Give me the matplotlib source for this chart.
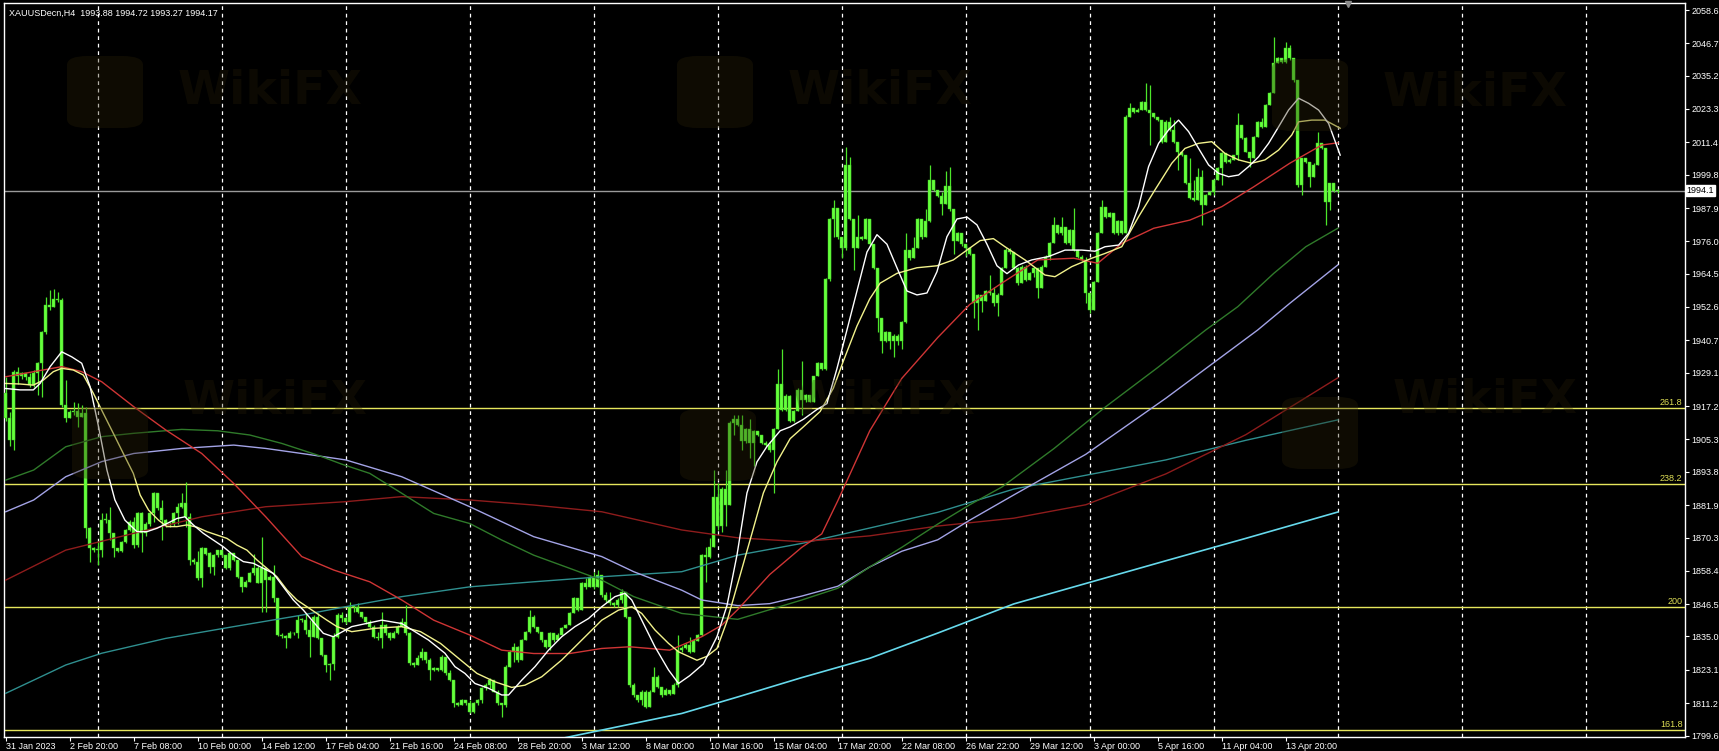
import numpy as np
import matplotlib.pyplot as plt
import matplotlib.transforms as mtransforms
from matplotlib.patches import FancyBboxPatch

# XAUUSDecn H4 candles (bar 0 = 31 Jan 2023 04:00)
first_open = 1921.8
close = [
    1913, 1905, 1929.5, 1928, 1929, 1927.5, 1924.7, 1929, 1932.5, 1943.8,
    1953.3, 1952.5, 1955.5, 1955, 1917.6, 1912.8, 1915, 1915.5, 1913.5, 1914.6,
    1873.6, 1866.4, 1865.8, 1866, 1876.5, 1876.5, 1871.8, 1866.4, 1865.5, 1868.8,
    1873, 1875.9, 1867.6, 1878.9, 1871.8, 1875.3, 1878.9, 1886.1, 1880.7, 1876.5,
    1874.8, 1875.3, 1878.9, 1881.3, 1882.5, 1877.7, 1862.3, 1861.7, 1855.7, 1866.4,
    1864.6, 1859.9, 1864, 1865.8, 1864, 1859.3, 1864.6, 1862.3, 1856.3, 1852.7,
    1854.5, 1857.5, 1859.3, 1854, 1859.3, 1855.1, 1856.3, 1848.6, 1835.5, 1835,
    1834.3, 1836.4, 1836.1, 1840.8, 1841, 1837.3, 1834.9, 1842, 1834.3, 1828.4,
    1824.8, 1825, 1834.9, 1842.6, 1841.4, 1840.2, 1845.6, 1845.6, 1843.8, 1842,
    1840.2, 1838.5, 1834.9, 1834.3, 1839.1, 1836.1, 1834.3, 1836.1, 1838.5, 1840.2,
    1836.1, 1825.4, 1824.8, 1827.2, 1829.5, 1826.6, 1823, 1823.6, 1823, 1827.8,
    1821.8, 1819.4, 1811.1, 1810.5, 1812.3, 1811.1, 1808.1, 1811.1, 1812.3, 1816.5,
    1817.6, 1819.4, 1815.3, 1811.1, 1810.5, 1824.2, 1829.5, 1831.3, 1826.5, 1833.7,
    1836.7, 1842, 1838.5, 1836.7, 1833.7, 1831.3, 1836.1, 1833.7, 1835.5, 1837.9,
    1839.1, 1843.2, 1848.6, 1844.4, 1853.9, 1852.7, 1856.3, 1852.7, 1856.9, 1849.8,
    1848, 1846.8, 1846.2, 1848, 1851, 1842, 1817.6, 1814.1, 1812.3, 1815.3,
    1809.9, 1815.3, 1820.6, 1817, 1814.1, 1816, 1814.5, 1817.6, 1830, 1830.7,
    1832.1, 1829.3, 1833.5, 1835.6, 1864, 1863.3, 1866.8, 1884.8, 1874.4, 1887.6,
    1882, 1911.1, 1912.5, 1910.5, 1904.9, 1909.1, 1904.2, 1908.4, 1907, 1904.2,
    1903.5, 1901.4, 1909.1, 1925, 1916, 1920.9, 1911.8, 1915.3, 1922.9, 1919.5,
    1921, 1918.8, 1927.8, 1932.6, 1930.6, 1962.5, 1984, 1988.1, 1977.7, 1973.6,
    2003.4, 1984, 1973.6, 1977.7, 1977, 1984, 1974.9, 1966.6, 1948.6, 1940.3,
    1943.7, 1940.3, 1942.4, 1940.3, 1947.2, 1972.9, 1970.1, 1973.6, 1984, 1977.7,
    1983.3, 1997.8, 1994.4, 1992.3, 1989.5, 1995.8, 1987.4, 1976.3, 1979.1, 1974.9,
    1973.6, 1971.5, 1954.1, 1956.9, 1954.8, 1958.3, 1957.6, 1954.1, 1956.9, 1966.6,
    1972.9, 1972.2, 1966.4, 1961, 1967, 1962.2, 1964.6, 1966.4, 1959.2, 1967,
    1970.6, 1975.3, 1981.9, 1978.9, 1981.3, 1975.3, 1980.1, 1972.9, 1970.6, 1969.4,
    1957.5, 1951.5, 1961.6, 1978.9, 1988.4, 1984.8, 1986, 1978.9, 1983.3, 1978.9,
    2020.5, 2023.5, 2022.3, 2022.9, 2025.9, 2022.9, 2021.7, 2020.5, 2019.3, 2011.6,
    2018.7, 2015.8, 2011.6, 2008, 2006.8, 1996.7, 1991.4, 1990.8, 1999.1, 1989,
    1992.6, 1993.5, 1997.9, 2002.1, 2007.4, 2004.5, 2005.1, 2006.8, 2017.5, 2012.8,
    2008, 2005.6, 2013.4, 2018.7, 2016.9, 2024.7, 2028.9, 2039.6, 2041.3, 2040.2,
    2044.9, 2041.3, 2033.6, 1996.1, 2005.6, 2004.5, 1999.1, 2003.3, 2011, 2009.2,
    1990.2, 1996.7, 1993.88, 1994.17,
]
high = [
    1927.7, 1915, 1930, 1931, 1929.5, 1929, 1929, 1930, 1933, 1944,
    1956.3, 1958.6, 1959, 1958, 1955.7, 1926.5, 1916, 1918.8, 1918.2, 1917.6,
    1917, 1874, 1867, 1869, 1878.9, 1879, 1881.3, 1872, 1866.5, 1869,
    1873.5, 1876.5, 1877.7, 1879.5, 1879.5, 1876, 1879.5, 1886.7, 1886.1, 1883.7,
    1877, 1876, 1879.5, 1882.5, 1886.1, 1890.2, 1878.9, 1863, 1865.5, 1867,
    1866.4, 1865, 1864.6, 1866, 1866, 1862.9, 1865, 1864.6, 1862.3, 1856.3,
    1855, 1858, 1864.6, 1860, 1870.6, 1859.5, 1857, 1860.5, 1848.6, 1836.1,
    1835.5, 1837, 1836.7, 1842.6, 1841.4, 1843.2, 1841, 1842.6, 1843.2, 1834.3,
    1828.4, 1825.4, 1836.1, 1843.2, 1843.8, 1842, 1847.4, 1846.2, 1846.8, 1843.8,
    1842, 1841, 1839.1, 1836.7, 1843.8, 1839.5, 1836.7, 1837, 1839, 1841.4,
    1846.2, 1836.7, 1826, 1828.4, 1830.7, 1829.5, 1827.2, 1824, 1823.6, 1828.4,
    1826, 1823, 1819.4, 1811.7, 1812.8, 1812, 1812.3, 1811.7, 1812.8, 1817,
    1818.5, 1820, 1819.4, 1815.9, 1811.1, 1824.8, 1830, 1832.5, 1831.5, 1834,
    1837, 1844.4, 1842.6, 1838.5, 1836.7, 1833.7, 1836.7, 1836.1, 1836.1, 1838.2,
    1839.5, 1843.8, 1849, 1848.6, 1854.3, 1855.7, 1856.9, 1858.1, 1858.7, 1856.9,
    1851, 1851, 1847.4, 1848.6, 1852, 1849.2, 1842, 1818.2, 1814.1, 1816,
    1815.9, 1815.9, 1824.2, 1821.2, 1817, 1816.5, 1816, 1818.2, 1835.6, 1831.5,
    1832.5, 1834.9, 1834, 1836, 1864.5, 1866.8, 1870.2, 1894.5, 1889.7, 1888.5,
    1894.5, 1912, 1913.9, 1913.9, 1913.9, 1909.5, 1912.5, 1908.8, 1908.4, 1907,
    1904.9, 1904.9, 1909.5, 1930.6, 1937.5, 1921.5, 1921, 1916, 1923.6, 1933.3,
    1921.5, 1921, 1928, 1933, 1932.6, 1963, 1984.5, 1990.9, 1985.3, 1977.7,
    2009.6, 2006.2, 1984, 1985.3, 1978, 1984.5, 1984, 1970.8, 1966.6, 1948.6,
    1944, 1943.1, 1943, 1943.1, 1947.5, 1979.1, 1973, 1977.7, 1984.5, 1979.1,
    1987.4, 2003.4, 1997.8, 1994.4, 1993.7, 2001.3, 2002.7, 1987.4, 1979.5, 1979.1,
    1975, 1974, 1971.5, 1957.2, 1956.9, 1958.6, 1963.9, 1959.7, 1957.5, 1967,
    1973.5, 1973.6, 1971.7, 1967, 1967.5, 1967.6, 1965, 1966.8, 1963.4, 1967.5,
    1971, 1975.8, 1984.8, 1981.9, 1984.8, 1981.3, 1980.5, 1987.8, 1973, 1971.1,
    1970.6, 1957.5, 1962, 1979.5, 1990.8, 1988.4, 1986.5, 1986, 1983.6, 1983.3,
    2021, 2025.3, 2023.5, 2023.5, 2026.2, 2032.4, 2031.8, 2021.7, 2020.5, 2019.3,
    2019.3, 2020.5, 2019.3, 2011.6, 2008, 2006.2, 2005.6, 1997.9, 2002.1, 2001.5,
    1993, 1994, 1998.2, 2002.5, 2007.8, 2007.4, 2005.6, 2007, 2021.7, 2017.5,
    2013.4, 2008, 2013.8, 2019, 2019.9, 2025, 2029.2, 2049.1, 2041.8, 2041.3,
    2047.3, 2046.1, 2041.3, 2033.6, 2005.8, 2005.6, 2003.9, 2003.9, 2015.2, 2011,
    2009.2, 1997, 1996.7, 1994.72,
]
low = [
    1912, 1903, 1901.5, 1925, 1927, 1926.5, 1924, 1924, 1921, 1920.6,
    1943, 1951.5, 1952.5, 1954.5, 1917, 1911.6, 1913, 1914, 1909.9, 1913.5,
    1870, 1861.7, 1865, 1860.5, 1863.5, 1875.5, 1869.4, 1863.5, 1865, 1865,
    1868.5, 1872.5, 1866.5, 1867, 1865.2, 1871, 1874.5, 1876, 1880, 1869.4,
    1874, 1874, 1874.5, 1875.3, 1880.7, 1874.2, 1860.5, 1861, 1855, 1852.7,
    1864, 1857.5, 1856.9, 1863.5, 1863.5, 1859, 1858.7, 1862, 1855.7, 1851,
    1852.7, 1854.5, 1857, 1853.9, 1843.8, 1843.8, 1855, 1847.4, 1835, 1834.5,
    1830.7, 1834.5, 1835.5, 1834.3, 1840.2, 1836, 1827.8, 1834.9, 1834, 1828,
    1822.4, 1819.4, 1823, 1834.3, 1840, 1839.5, 1840, 1843.8, 1843.2, 1841.4,
    1839.5, 1837.9, 1834.3, 1833.7, 1830.7, 1835.5, 1833.7, 1834.3, 1836, 1838.5,
    1835.5, 1824.8, 1824.2, 1824.8, 1826.6, 1825.4, 1819.4, 1822.5, 1822.5, 1822.5,
    1821.2, 1819, 1809.9, 1810, 1811, 1810.5, 1807.5, 1807.5, 1810.5, 1811.1,
    1815.9, 1816.5, 1815, 1810.5, 1806.3, 1809.9, 1824.2, 1826, 1826, 1830.7,
    1833.7, 1836.1, 1838, 1836.1, 1833, 1830.7, 1830, 1833.1, 1834.5, 1835.5,
    1837.9, 1839.1, 1844.4, 1844, 1845.6, 1852, 1852.7, 1852, 1855.7, 1849.2,
    1847.4, 1846.2, 1845.6, 1845.6, 1846.8, 1841.4, 1817, 1813.5, 1811.7, 1810.5,
    1809.3, 1813.5, 1815.3, 1816.5, 1813.5, 1814.5, 1814, 1814.5, 1817, 1829.5,
    1830.5, 1829, 1829.3, 1833.5, 1835, 1854.3, 1863, 1866.8, 1873, 1872.3,
    1874.4, 1882, 1907, 1910, 1901.4, 1904.2, 1898.7, 1895.9, 1906.5, 1903.8,
    1903, 1901, 1886.2, 1909, 1915.5, 1915.3, 1911.5, 1911.5, 1916.5, 1913.9,
    1918.8, 1918.5, 1919.5, 1927.8, 1930, 1930, 1962, 1977.7, 1977, 1970.1,
    1973, 1983.5, 1965.9, 1974, 1976.5, 1977, 1974.5, 1966, 1943.7, 1936.1,
    1940, 1937.5, 1934.7, 1938.9, 1937.5, 1947, 1969.5, 1970, 1977.5, 1977,
    1977.7, 1983, 1994, 1992, 1985.3, 1989.5, 1987, 1971.5, 1976.3, 1974.5,
    1970.8, 1971, 1948.6, 1944.4, 1950.7, 1954.8, 1957, 1952.8, 1949.3, 1956.9,
    1966.6, 1971.5, 1966, 1960.5, 1961.6, 1962, 1962.8, 1963.4, 1955.7, 1959.8,
    1967, 1969.4, 1975.3, 1978.5, 1978.3, 1975, 1974.7, 1972.5, 1970, 1969,
    1953.9, 1950.3, 1952.1, 1961.6, 1978.9, 1984.5, 1984.8, 1978.5, 1978.3, 1978.5,
    1978.9, 2020.5, 2022, 2022.3, 2022.9, 2022.5, 2010.4, 2020.2, 2019, 2011,
    2011.6, 2015.5, 2011, 2001.5, 2006.5, 1996.5, 1991, 1990.5, 1998.5, 1981.9,
    1989, 1992.6, 1992.6, 1998.5, 1996.1, 2004, 2003.9, 2005.1, 2005.1, 2012.5,
    2007.8, 2002.7, 2005.6, 2013.4, 2016.5, 2016.9, 2024.7, 2028.9, 2039.6, 2039.6,
    2039.6, 2040.7, 2033, 1995.5, 1992.6, 2004, 1995.5, 1999, 2003.3, 2009,
    1981.9, 1987.2, 1993.5, 1993.27,
]

# moving averages, sampled along the chart (bar index, price)
white_x = [0, 3.6, 6.9, 8.6, 11.1, 14, 16.5, 19, 21.1, 23.2, 25.3, 27.3, 29.8, 32.8, 35.3, 37.8, 40.3,
           42.8, 44.8, 46.9, 49.4, 51.9, 54.4, 56.9, 59.4, 61.9, 64.4, 66.9, 69.4, 71.9, 74.4, 76.9,
           79.4, 81.9, 86.5, 94, 99, 102.3, 105.7, 109.8, 112.3, 114.8, 117.3, 120.7, 124, 125.7, 129,
           132.3, 135.7, 139, 142.3, 145.7, 149, 152.3, 154.8, 156.5, 159, 162.3, 165.7, 168.2, 171,
           174.4, 177.8, 180.3, 182.8, 185.3, 187.8, 190.3, 193.6, 196.1, 199.4, 202.8, 205.3, 207.8,
           210.3, 212.8, 215.3, 217.8, 220.3, 222.8, 225.3, 227.8, 230.3, 232.8, 235.3, 237.8, 240.3,
           242.8, 245.3, 247.8, 250.3, 253.2, 256.5, 260.7, 264.8, 269, 272.3, 274.8, 278.2, 280.7,
           283.2, 285.7, 288.2, 290.7, 293.2, 295.7, 298.2, 300.7, 303.2, 305.7, 308.2, 310.7, 313.2,
           315.7, 318.2, 320.7, 323.2, 325.7, 328.2, 330.7, 333.6]
white_y = [1923.5, 1923, 1923, 1925.3, 1931.3, 1936.6, 1934.8, 1932.5, 1924.1, 1909.9, 1894.4, 1883.7,
           1876.5, 1872.4, 1872.4, 1873.6, 1875.3, 1877.1, 1877.7, 1874.8, 1871.8, 1869.4, 1867, 1864,
           1861.7, 1861.1, 1859.3, 1857.5, 1852.7, 1848, 1844.4, 1840.2, 1836.1, 1834.9, 1838.5, 1840.8,
           1839.6, 1836.7, 1833.7, 1829, 1824.2, 1821.8, 1818.2, 1816.5, 1814.1, 1814.1, 1819.4, 1824.2,
           1830.1, 1834.9, 1838.5, 1841.4, 1845.6, 1849.2, 1850.4, 1848, 1840.8, 1831.3, 1823, 1818.2,
           1821, 1825.2, 1834.9, 1846, 1864, 1886.2, 1897.3, 1902.8, 1908.4, 1909.8, 1912.5, 1916,
           1918.1, 1930.6, 1944.4, 1958.3, 1972.2, 1978.4, 1975, 1966.6, 1958.3, 1956.9, 1957.6, 1965.2,
           1977.7, 1984, 1984.7, 1981.9, 1975, 1967.3, 1964.5, 1967.6, 1969.4, 1970.6, 1972.9, 1972.9,
           1972.5, 1974.1, 1974.7, 1978.9, 1988.4, 2002.7, 2011, 2015.8, 2019.3, 2015.2, 2009.2, 2003.3,
           2000.3, 1999.1, 1999.7, 2002.7, 2006.2, 2011, 2016.9, 2022.9, 2027.1, 2025.3, 2022.9, 2018.1,
           2006.8]
yellow_x = [0, 3.6, 6.9, 9.4, 11.9, 14, 16.9, 19.4, 21.9, 24.4, 26.9, 29.4, 31.9, 33.6, 35.7, 38.2,
            40.3, 42.8, 45.3, 47.8, 50.3, 52.8, 55.3, 57.8, 60.3, 62.8, 65.3, 67.8, 70.3, 72.8, 75.3,
            77.8, 80.3, 82.8, 86.5, 92.3, 99, 103.7, 108.7, 113.7, 117.8, 122.3, 126.5, 129.8, 134,
            139, 144, 149, 153.2, 156.5, 159, 162.3, 165.7, 168.2, 172.8, 175.3, 177.8, 180.3, 182.8,
            186.1, 189.4, 192.8, 196.1, 199.4, 203.6, 206.9, 209.4, 212.8, 216, 218.6, 222.8, 227.8,
            232.8, 236.9, 240.3, 243.6, 246.9, 249.8, 254.8, 259.8, 262.3, 266.5, 271.5, 274.8, 279,
            283.2, 287.3, 291.5, 294.8, 298.2, 301.5, 304.8, 308.2, 311.5, 314.8, 318.2, 321.5, 323.2,
            326.5, 329.8, 333.6]
yellow_y = [1925.3, 1925.1, 1924.7, 1926.5, 1929.5, 1930.7, 1930.1, 1928.3, 1921.8, 1914.6, 1907.5,
            1900.3, 1893.2, 1885.5, 1880.1, 1876.5, 1874.2, 1874.2, 1874.8, 1874, 1872.4, 1871.2, 1870,
            1867.6, 1865.8, 1862.3, 1859.3, 1856.3, 1851.6, 1848, 1845.6, 1843.2, 1840.8, 1838.5, 1836.7,
            1837.9, 1838.5, 1836.7, 1832.5, 1826.6, 1821.8, 1818.8, 1816.8, 1817.6, 1820.6, 1826.6,
            1833.7, 1840.8, 1844.4, 1845.6, 1843.2, 1837.3, 1832.5, 1829.5, 1826.5, 1827.9, 1830.7,
            1840.4, 1852.9, 1869.5, 1886.2, 1897.3, 1905.6, 1909.8, 1915.3, 1923.6, 1933.3, 1945.8,
            1955.5, 1961.1, 1964.6, 1966.6, 1967.3, 1969.4, 1972.9, 1976.3, 1977, 1974.1, 1969.4, 1964,
            1963.4, 1967, 1970, 1971.7, 1974.1, 1984.8, 1994.4, 2003.9, 2009.2, 2011, 2011.6, 2007.4,
            2005.1, 2003.9, 2005.1, 2008.6, 2014, 2018.7, 2019.3, 2019.3, 2016.4]
red_x = [0, 14, 19, 24, 32, 40, 49, 57, 65, 74, 82, 91, 99, 107, 116, 124, 132, 141, 149, 156, 166,
         174, 179, 183, 191, 199, 204, 208, 216, 224, 233, 241, 249, 258, 267, 273, 279, 287, 296,
         304, 312, 321, 329, 333]
red_y = [1927.7, 1931.3, 1929.5, 1925.9, 1917, 1908.7, 1900.3, 1889.6, 1877.7, 1863.5, 1858.7, 1854.5,
         1848, 1840.8, 1835.5, 1830.1, 1828.9, 1828.9, 1830.7, 1831.3, 1830.1, 1834.9, 1839, 1844.6,
         1857.1, 1866.8, 1871.6, 1883.4, 1908.4, 1927.1, 1941.7, 1953.5, 1961.1, 1969.4, 1970, 1968.2,
         1975.3, 1980.7, 1983.6, 1988.4, 1995.5, 2003.9, 2010.4, 2011.2]
green_x = [0, 7, 15, 24, 32, 44, 53, 61, 69, 78, 84, 91, 99, 107, 116, 124, 132, 141, 149, 157, 169,
           183, 199, 208, 216, 224, 233, 241, 249, 262, 275, 288, 300, 308, 317, 325, 333]
green_y = [1890.8, 1894.4, 1902.7, 1906.3, 1907.5, 1908.9, 1908.4, 1906.9, 1903.9, 1899.7, 1896.5,
           1893.2, 1886.1, 1878.9, 1875.3, 1869.4, 1864, 1859.3, 1855.1, 1849.2, 1843.2, 1841.1, 1848,
           1852.2, 1859.8, 1866.8, 1875.1, 1882, 1888.3, 1902, 1917, 1931, 1944.4, 1952.7, 1964.6,
           1974.1, 1980.7]
purple_x = [0, 7, 15, 24, 32, 44, 57, 65, 74, 85, 99, 116, 132, 149, 157, 169, 174, 183, 191, 199,
            208, 216, 224, 233, 241, 252, 270, 290, 313, 321, 333]
purple_y = [1879.5, 1883.7, 1892, 1897.4, 1900.3, 1902.1, 1903.3, 1902.1, 1900.3, 1898, 1892, 1881.3,
            1870.6, 1863.5, 1858.1, 1851.5, 1848, 1846, 1846.7, 1849.4, 1852.9, 1859.8, 1865.4, 1869.5,
            1876.5, 1885.5, 1900, 1920, 1944.4, 1953.9, 1967.6]
darkred_x = [0, 15, 32, 49, 65, 85, 99, 116, 132, 149, 169, 183, 199, 216, 233, 252, 270, 290, 310, 333]
darkred_y = [1855.1, 1865.8, 1871.8, 1877.7, 1881.3, 1883.1, 1884.9, 1883.7, 1881.9, 1879.5, 1873,
             1870.2, 1868.8, 1870.9, 1874.4, 1877.2, 1882, 1893, 1907, 1927.3]
teal_x = [0, 7, 15, 24, 40, 57, 74, 85, 99, 116, 132, 149, 169, 183, 199, 216, 233, 252, 290, 310, 333]
teal_y = [1814.7, 1819.4, 1824.8, 1829, 1834.3, 1838.5, 1842.6, 1845.6, 1849.2, 1852.7, 1854.5,
          1856.3, 1858.1, 1864, 1868.2, 1873.7, 1879.3, 1887.6, 1898, 1905, 1912.3]
cyan_x = [125, 139, 169, 183, 199, 216, 233, 252, 290, 310, 333]
cyan_y = [1795.5, 1798.6, 1807.5, 1813.4, 1820.3, 1827.2, 1836.2, 1846.6, 1862, 1870, 1879.4]

fib_levels = ['261.8', '238.2', '200', '161.8']
fib_prices = [1916.45, 1889.3, 1845.4, 1801.5]

price_ticks = [2058.6, 2046.7, 2035.2, 2023.3, 2011.4, 1999.8, 1987.9, 1976.0, 1964.5, 1952.6,
               1940.7, 1929.1, 1917.2, 1905.3, 1893.8, 1881.9, 1870.3, 1858.4, 1846.5, 1835.0,
               1823.1, 1811.2, 1799.6]
time_labels = ['31 Jan 2023', '2 Feb 20:00', '7 Feb 08:00', '10 Feb 00:00', '14 Feb 12:00',
               '17 Feb 04:00', '21 Feb 16:00', '24 Feb 08:00', '28 Feb 20:00', '3 Mar 12:00',
               '8 Mar 00:00', '10 Mar 16:00', '15 Mar 04:00', '17 Mar 20:00', '22 Mar 08:00',
               '26 Mar 22:00', '29 Mar 12:00', '3 Apr 00:00', '5 Apr 16:00', '11 Apr 04:00',
               '13 Apr 20:00']
bid = 1994.17
title = 'XAUUSDecn,H4  1993.88 1994.72 1993.27 1994.17'

W, H = 1719, 751
fig = plt.figure(figsize=(W / 100, H / 100), dpi=100, facecolor='black')
ax = fig.add_axes([4 / W, 14 / H, 1681 / W, 734 / H], facecolor='black')
font = 'Liberation Sans'

c = np.array(close)
o = np.array([first_open] + close[:-1])
h = np.maximum(np.array(high), np.maximum(o, c))
l = np.minimum(np.array(low), np.minimum(o, c))
x = np.arange(len(c))

# faint WikiFX watermarks (logo square + text), behind everything
for lx, ly, ty in [(105, 92, 92), (715, 92, 92), (1310, 95, 93), (110, 443, 402), (718, 445, 402), (1320, 433, 400)]:
    fig.patches.append(FancyBboxPatch(((lx - 38) / W, 1 - (ly + 36) / H), 76 / W, 72 / H,
                                      boxstyle='round,pad=0,rounding_size=0.012',
                                      transform=fig.transFigure, facecolor='#2a2107', edgecolor='none',
                                      alpha=0.35, zorder=0.5))
    fig.text((lx + 165) / W, 1 - ty / H, 'WikiFX', ha='center', va='center', fontsize=34,
             fontweight='bold', color='#2a2107', alpha=0.3, family='DejaVu Sans', zorder=0.5)
ax.patch.set_alpha(0)

# weekly dashed grid (every 31 bars)
for gx in np.arange(23.1, 420, 31):
    ax.axvline(gx, color='white', lw=0.9, ls=(0, (3, 3)), zorder=1)

# fibonacci lines
ytrans = mtransforms.blended_transform_factory(ax.transAxes, ax.transData)
for lab, p in zip(fib_levels, fib_prices):
    ax.axhline(p, color='#e6e65c', lw=1.0, zorder=2)
    ax.text(0.9985, p + 0.6, lab, transform=ytrans, ha='right', va='bottom', color='#dede55',
            fontsize=6.5, family=font, zorder=6)

ax.axhline(bid, color='#9a9a9a', lw=1.0, zorder=2)

# candles
body_col = '#66ff3c'
ax.vlines(x, l, h, color='#4ce62a', lw=0.9, zorder=3)
bottom = np.minimum(o, c)
height = np.maximum(np.abs(c - o), 0.3)
ax.bar(x, height, bottom=bottom, width=0.72, color=body_col, edgecolor='#3fcf25', linewidth=0.3, zorder=4)

# moving averages
ax.plot(cyan_x, cyan_y, color='#66d9ec', lw=1.2, zorder=5)
ax.plot(teal_x, teal_y, color='#2f8f8f', lw=1.0, zorder=5)
ax.plot(darkred_x, darkred_y, color='#8e1c1c', lw=1.0, zorder=5)
ax.plot(purple_x, purple_y, color='#a3a3e6', lw=1.0, zorder=5)
ax.plot(green_x, green_y, color='#2f7a2a', lw=1.0, zorder=5)
ax.plot(red_x, red_y, color='#cf3535', lw=1.0, zorder=5)
ax.plot(yellow_x, yellow_y, color='#f2f28c', lw=1.0, zorder=6)
ax.plot(white_x, white_y, color='white', lw=1.0, zorder=6)

ax.set_xlim(-0.43, 419.8)
ax.set_ylim(1799.1, 2061.1)

# axes look
for s in ax.spines.values():
    s.set_color('white')
    s.set_linewidth(1.0)
ax.yaxis.tick_right()
ax.set_yticks(price_ticks)
ax.set_yticklabels([f'{v:.1f}' for v in price_ticks])
ax.set_xticks(np.arange(len(time_labels)) * 16)
ax.set_xticklabels(time_labels)
ax.tick_params(axis='y', colors='white', labelsize=6.5, length=3, width=0.8, pad=1.5)
ax.tick_params(axis='x', colors='white', labelsize=6.5, length=3, width=0.8, pad=0.5)
for t in ax.get_xticklabels():
    t.set_horizontalalignment('left')
    t.set_family(font)
for t in ax.get_yticklabels():
    t.set_family(font)

bid_text = f'{np.floor(bid * 10) / 10:.1f}'
ax.text(1.001, bid, bid_text, transform=ytrans, ha='left', va='center', color='black', fontsize=6.5,
        family=font, clip_on=False, bbox=dict(facecolor='white', edgecolor='white', pad=0.8), zorder=10)
ax.text(0.003, 0.992, title, transform=ax.transAxes, ha='left', va='top', color='white',
        fontsize=6.5, family=font, zorder=10)
ax.plot([335.6], [2060.6], marker='v', color='#8c8c8c', markersize=5, clip_on=False, zorder=10)

fig.savefig('out.png', dpi=100, facecolor='black')
